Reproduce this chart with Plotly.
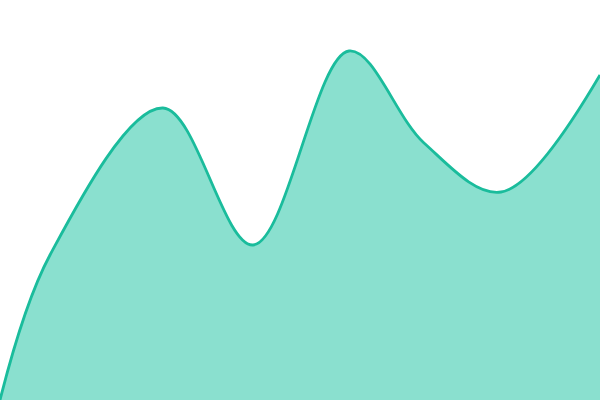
import plotly.graph_objects as go

# key points of the curve (x across, height above bottom, px)
points = [0, 50, 163, 253, 349, 424, 501, 600]
values = [0, 145, 292, 155, 349, 257, 208, 325]

fig = go.Figure()
fig.add_trace(go.Scatter(
    x=points, y=values,
    mode="lines",
    line=dict(color="#1abc9c", width=2.8, shape="spline", smoothing=1.0),
    fill="tozeroy",
    fillcolor="#8ae0cf",
    hoverinfo="skip",
))

fig.update_layout(
    width=600, height=400,
    margin=dict(l=0, r=0, t=0, b=0),
    paper_bgcolor="white", plot_bgcolor="white",
    showlegend=False,
    xaxis=dict(visible=False, range=[0, 600]),
    yaxis=dict(visible=False, range=[0, 400]),
)

fig.write_html("out.html", config={"displayModeBar": False},
               post_script="document.body.style.margin='0';")
